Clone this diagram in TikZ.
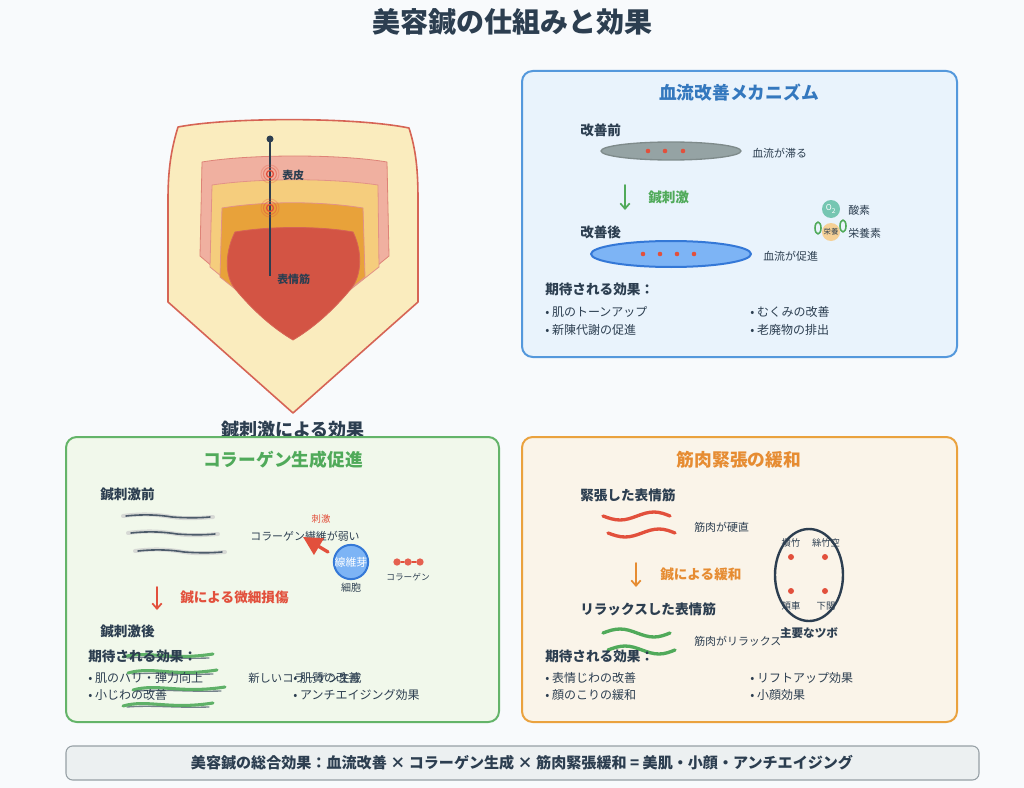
\documentclass[tikz,border=0pt]{standalone}
\usepackage{fontspec}
\setmainfont{Noto Sans CJK JP}
\usepackage{tikz}
\usetikzlibrary{arrows.meta}
\definecolor{bgwhite}{RGB}{248,250,252}
\definecolor{qqdark}{RGB}{44,62,80}
\definecolor{shieldfill}{RGB}{250,236,190}
\definecolor{shieldline}{RGB}{214,100,85}
\definecolor{skinpink}{RGB}{240,176,160}
\definecolor{skinlight}{RGB}{245,205,125}
\definecolor{skinorange}{RGB}{232,162,58}
\definecolor{skinred}{RGB}{211,84,68}
\definecolor{dotred}{RGB}{226,80,60}
\definecolor{bluefill}{RGB}{233,243,252}
\definecolor{blueline}{RGB}{84,152,220}
\definecolor{bluetext}{RGB}{52,120,190}
\definecolor{vesselblue}{RGB}{125,180,245}
\definecolor{vesseledge}{RGB}{52,120,215}
\definecolor{vesselgray}{RGB}{149,163,164}
\definecolor{greenfill}{RGB}{241,248,235}
\definecolor{greenline}{RGB}{100,180,105}
\definecolor{greentext}{RGB}{80,170,90}
\definecolor{orangefill}{RGB}{250,244,233}
\definecolor{orangeline}{RGB}{234,162,62}
\definecolor{orangetext}{RGB}{230,140,50}
\definecolor{oxteal}{RGB}{118,198,178}
\definecolor{nutorange}{RGB}{245,208,150}
\definecolor{barfill}{RGB}{236,240,241}
\definecolor{barline}{RGB}{150,160,165}

\begin{document}
\begin{tikzpicture}[line cap=round,line join=round,>={Stealth},x=0.75pt,y=-0.75pt,
  txt/.style={inner sep=0pt,text=qqdark},
  lbl/.style={txt,font=\fontsize{8.2}{9}\selectfont},
  tinylbl/.style={txt,font=\fontsize{7}{8}\selectfont},
  sub/.style={txt,font=\fontsize{10.2}{11}\selectfont\bfseries},
  item/.style={txt,font=\fontsize{9}{10}\selectfont,anchor=west},
  head/.style={inner sep=0pt,font=\fontsize{13.3}{15}\selectfont\bfseries},
  panel/.style={rounded corners=8pt,line width=1.5pt},
  downarrow/.style={-{Straight Barb[length=4pt,width=7pt]},line width=1.3pt}]
\useasboundingbox (0,0) rectangle (1024,788);
\fill [bgwhite] (0,0) rectangle (1024,788);
\node [txt,font=\fontsize{21}{24}\selectfont\bfseries] (title) at (512,22) {美容鍼の仕組みと効果};

% skin cross-section
\draw [fill=shieldfill,draw=shieldline,line width=1.2pt] (178,127) .. controls (230,117) and (355,117) .. (409,128) .. controls (416,150) and (418,170) .. (418,200) -- (418,302) -- (293,413) -- (168,302) -- (168,200) .. controls (168,170) and (171,150) .. (178,127) -- cycle;
\draw [fill=skinpink,draw=shieldline!80,line width=0.6pt] (202,162) .. controls (250,154) and (340,154) .. (387,162) -- (389,256) -- (293,335) -- (200,256) -- cycle;
\draw [fill=skinlight,draw=shieldline!70,line width=0.6pt] (212,185) .. controls (260,178) and (330,178) .. (378,185) -- (379,267) -- (293,335) -- (210,267) -- cycle;
\draw [fill=skinorange,draw=shieldline!70,line width=0.6pt] (222,208) .. controls (265,201) and (320,201) .. (363,208) -- (365,277) -- (293,335) -- (220,277) -- cycle;
\draw [fill=skinred,draw=shieldline,line width=0.6pt] (235,232) .. controls (270,226) and (320,226) .. (353,232) .. controls (362,250) and (363,275) .. (350,290) .. controls (330,314) and (310,330) .. (293,340) .. controls (276,330) and (256,314) .. (236,290) .. controls (223,275) and (226,250) .. (235,232) -- cycle;
% needle
\coordinate (tip) at (270,139);
\coordinate (root) at (270,276);
\draw [qqdark,line width=2.2pt,line cap=butt] (tip) -- (root);
\fill [qqdark] (tip) circle (3.5);
\foreach \yy in {174,208}{
  \draw [dotred,line width=1pt] (270,\yy) circle (3.5);
  \draw [dotred,opacity=0.5,line width=0.8pt] (270,\yy) circle (6.5);
  \draw [dotred,opacity=0.25,line width=0.8pt] (270,\yy) circle (9);
}
\node [txt,font=\fontsize{8.2}{9}\selectfont\bfseries,anchor=west] (epi) at (282,175) {表皮};
\node [txt,font=\fontsize{8.2}{9}\selectfont\bfseries,anchor=west] (mus) at (277,279) {表情筋};
\node [txt,font=\fontsize{13.5}{15}\selectfont\bfseries] (effect) at (293,430) {鍼刺激による効果};

% blood flow panel
\draw [panel,fill=bluefill,draw=blueline] (522,71) rectangle (957,357);
\node [head,text=bluetext] (bhead) at (739,93) {血流改善メカニズム};
\node [sub,anchor=west] (before) at (580,130) {改善前};
\draw [fill=vesselgray,draw=vesselgray!85!black,line width=1pt] (671,151) ellipse [x radius=70,y radius=9];
\foreach \xx in {648,665,683} \fill [dotred] (\xx,151) circle (2.3);
\node [lbl,anchor=west] (slow) at (752,153) {血流が滞る};
\coordinate (ga) at (625,185);
\coordinate (gb) at (625,210);
\draw [downarrow,greentext] (ga) -- (gb);
\node [txt,font=\fontsize{10.2}{11}\selectfont\bfseries,text=greentext,anchor=west] (stim) at (648,198) {鍼刺激};
\node [sub,anchor=west] (after) at (580,232) {改善後};
\draw [fill=vesselblue,draw=vesseledge,line width=1.5pt] (671,254) ellipse [x radius=80,y radius=13];
\foreach \xx in {643,660,677,694} \fill [dotred] (\xx,254) circle (2.3);
\node [lbl,anchor=west] (fast) at (763,256) {血流が促進};
\node [circle,fill=oxteal,minimum size=13.5pt,inner sep=0pt,text=white,font=\fontsize{6}{6}\selectfont] (oxy) at (831,209) {O\textsubscript{2}};
\node [circle,fill=nutorange,minimum size=13.5pt,inner sep=0pt,text=qqdark,font=\fontsize{5.5}{6}\selectfont] (nut) at (831,232) {栄養};
\draw [greentext,line width=1.2pt] (818,228) ellipse [x radius=3,y radius=6];
\draw [greentext,line width=1.2pt] (843,226) ellipse [x radius=3,y radius=6];
\node [lbl,anchor=west] (oxtxt) at (848,210) {酸素};
\node [lbl,anchor=west] (nuttxt) at (848,233) {栄養素};
\node [sub,anchor=west] (bexp) at (545,289) {期待される効果：};
\node [item] (b1) at (545,312) {• 肌のトーンアップ};
\node [item] (b2) at (545,330) {• 新陳代謝の促進};
\node [item] (b3) at (750,312) {• むくみの改善};
\node [item] (b4) at (750,330) {• 老廃物の排出};

% collagen panel
\draw [panel,fill=greenfill,draw=greenline] (66,437) rectangle (499,722);
\node [head,text=greentext] (chead) at (283,460) {コラーゲン生成促進};
\node [sub,anchor=west] (cbefore) at (100,495) {鍼刺激前};
\foreach \dx/\yy in {0/516,5/533,12/551}{
  \draw [gray!40,line width=3pt,opacity=0.7] (123+\dx,\yy) .. controls (145+\dx,\yy-3) and (160+\dx,\yy-1) .. (172+\dx,\yy+1) .. controls (185+\dx,\yy+3) and (200+\dx,\yy+2) .. (213+\dx,\yy+1);
  \draw [qqdark!85,line width=1.2pt] (126+\dx,\yy) .. controls (145+\dx,\yy-2) and (160+\dx,\yy-1) .. (172+\dx,\yy+1) .. controls (185+\dx,\yy+2) and (200+\dx,\yy+2) .. (210+\dx,\yy+1);
}
\node [lbl] (weak) at (305,536) {コラーゲン繊維が弱い};
\coordinate (sa) at (328,552);
\coordinate (sb) at (303,537);
\draw [-{Triangle[length=14pt,width=14pt]},dotred,line width=2.5pt] (sa) -- (sb);
\node [tinylbl,text=dotred] (sting) at (321,519) {刺激};
\node [circle,fill=vesselblue,draw=vesseledge,line width=1.5pt,minimum size=25.5pt,inner sep=0pt,text=white,font=\fontsize{8.2}{9}\selectfont] (fibro) at (351,562) {線維芽};
\node [tinylbl,font=\fontsize{7.5}{8}\selectfont] (cell) at (351,588) {細胞};
\node [circle,fill=dotred!90,minimum size=5.5pt,inner sep=0pt] (m1) at (397,562) {};
\node [circle,fill=dotred!90,minimum size=5.5pt,inner sep=0pt] (m2) at (408,562) {};
\node [circle,fill=dotred!90,minimum size=5.5pt,inner sep=0pt] (m3) at (420,562) {};
\draw [dotred,line width=1pt] (m1) -- (m2) -- (m3);
\node [tinylbl,font=\fontsize{6.5}{7}\selectfont] (coll) at (408,577) {コラーゲン};
\coordinate (ra) at (157,587);
\coordinate (rb) at (157,610);
\draw [downarrow,dotred] (ra) -- (rb);
\node [txt,font=\fontsize{10.2}{11}\selectfont\bfseries,text=dotred,anchor=west] (injury) at (180,598) {鍼による微細損傷};
\node [sub,anchor=west] (cafter) at (100,632) {鍼刺激後};
\foreach \xa/\xb/\yy in {123/213/656,128/217/672,133/225/689,123/213/705}{
  \draw [qqdark!80,line width=1pt,opacity=0.8] (\xa+4,\yy+2) .. controls (\xa+30,\yy) and (\xb-40,\yy+3) .. (\xb-4,\yy+2);
  \draw [greentext,line width=2.3pt,opacity=0.9] (\xa,\yy+1) .. controls (\xa+25,\yy-6) and (\xb-45,\yy+5) .. (\xb,\yy-2);
}
\node [sub,anchor=west] (cexp) at (88,656) {期待される効果：};
\node [item] (c1) at (88,678) {• 肌のハリ・弾力向上};
\node [item] (c2) at (88,695) {• 小じわの改善};
\node [item,font=\fontsize{8.5}{10}\selectfont] (newc) at (248,678) {新しいコラーゲン生成};
\node [item] (c3) at (293,678) {• 肌質の改善};
\node [item] (c4) at (293,695) {• アンチエイジング効果};

% muscle panel
\draw [panel,fill=orangefill,draw=orangeline] (522,437) rectangle (957,722);
\node [head,text=orangetext] (mhead) at (739,460) {筋肉緊張の緩和};
\node [sub,anchor=west] (tense) at (580,495) {緊張した表情筋};
\draw [dotred,line width=2.5pt] (603,516) sin (620,520) cos (637,516) sin (654,512) cos (670,516);
\draw [dotred,line width=2.5pt] (608,533) sin (625,537) cos (642,533) sin (659,529) cos (675,533);
\node [lbl,anchor=west] (stiff) at (694,527) {筋肉が硬直};
\coordinate (oa) at (636,563);
\coordinate (ob) at (636,587);
\draw [downarrow,orangetext] (oa) -- (ob);
\node [txt,font=\fontsize{10.2}{11}\selectfont\bfseries,text=orangetext,anchor=west] (relief) at (660,575) {鍼による緩和};
\node [sub,anchor=west] (relax) at (580,609) {リラックスした表情筋};
\draw [greentext,line width=2.5pt] (603,633) sin (620,629) cos (637,633) sin (654,637) cos (670,633);
\draw [greentext,line width=2.5pt] (608,650) sin (625,646) cos (642,650) sin (659,654) cos (675,650);
\node [lbl,anchor=west] (loose) at (694,641) {筋肉がリラックス};
\draw [qqdark,line width=1.8pt] (809,575) ellipse [x radius=34,y radius=46];
\foreach \xx/\yy in {791/557,825/557,791/591,825/591} \fill [dotred] (\xx,\yy) circle (3);
\node [tinylbl] (p1) at (791,543) {攢竹};
\node [tinylbl] (p2) at (826,543) {絲竹空};
\node [tinylbl] (p3) at (791,606) {頬車};
\node [tinylbl] (p4) at (826,606) {下関};
\node [txt,font=\fontsize{8.7}{9}\selectfont\bfseries] (tsubo) at (809,633) {主要なツボ};
\node [sub,anchor=west] (mexp) at (545,656) {期待される効果：};
\node [item] (m4) at (545,678) {• 表情じわの改善};
\node [item] (m5) at (545,695) {• 顔のこりの緩和};
\node [item] (m6) at (750,678) {• リフトアップ効果};
\node [item] (m7) at (750,695) {• 小顔効果};

% summary bar
\draw [fill=barfill,draw=barline,line width=0.8pt,rounded corners=5pt] (66,746) rectangle (979,780);
\node [txt,font=\fontsize{11.3}{12}\selectfont\bfseries] (sum) at (522,763) {美容鍼の総合効果：血流改善 × コラーゲン生成 × 筋肉緊張緩和 = 美肌・小顔・アンチエイジング};
\end{tikzpicture}
\end{document}
